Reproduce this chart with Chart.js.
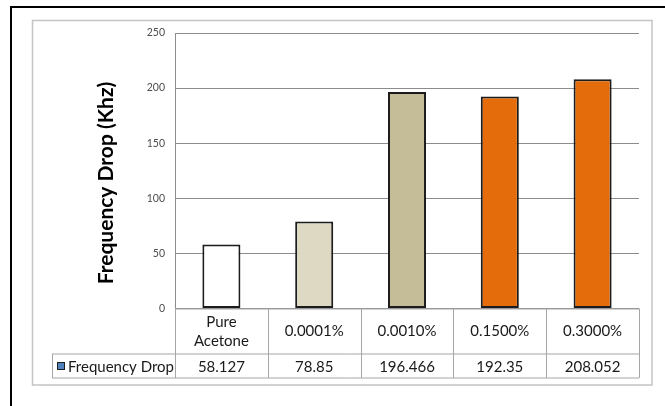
<!DOCTYPE html>
<html>
<head>
<meta charset="utf-8">
<script src="https://cdn.jsdelivr.net/npm/chart.js@4/dist/chart.umd.min.js"></script>
<style>
    html, body { margin: 0; padding: 0; background: #fff; }
    #wrap { width: 665px; height: 406px; position: relative; }
</style>
</head>
<body>
<div id="wrap"><canvas id="chart" width="665" height="406"></canvas></div>
<script>
const categories = [['Pure', 'Acetone'], '0.0001%', '0.0010%', '0.1500%', '0.3000%'];
const seriesName = 'Frequency Drop';
const frequencyDrop = [58.127, 78.85, 196.466, 192.35, 208.052];
const valueLabels = ['58.127', '78.85', '196.466', '192.35', '208.052'];
const barColors = ['#ffffff', '#ddd9c3', '#c4bd97', '#e46c0a', '#e46c0a'];
const yTicks = [0, 50, 100, 150, 200, 250];
const yTitle = 'Frequency Drop (Khz)';

const FONT = 'Lato, "Open Sans", sans-serif';

// frame, axis title and the data table under the bars
const tablePlugin = {
    id: 'dataTable',
    beforeDraw(chart) {
        const ctx = chart.ctx;
        ctx.save();
        ctx.fillStyle = '#fff';
        ctx.fillRect(0, 0, chart.width, chart.height);
        // outer black border
        ctx.strokeStyle = '#000';
        ctx.lineWidth = 2;
        ctx.beginPath();
        ctx.moveTo(11, chart.height + 5);
        ctx.lineTo(11, 7);
        ctx.lineTo(chart.width + 5, 7);
        ctx.stroke();
        // inner chart frame
        ctx.strokeStyle = '#c4c4c4';
        ctx.lineWidth = 1.5;
        ctx.strokeRect(32.5, 20.5, 619.5, 364.5);
        ctx.restore();
    },
    afterDraw(chart) {
        const ctx = chart.ctx;
        const area = chart.chartArea;
        const x = chart.scales.x;
        const n = categories.length;
        const colW = area.width / n;
        const top = area.bottom;
        const mid = top + 45.5;
        const bot = mid + 24;
        const legendLeft = 52;

        ctx.save();
        ctx.strokeStyle = '#a6a6a6';
        ctx.lineWidth = 1;
        ctx.beginPath();
        ctx.moveTo(area.left, top + 0.5); ctx.lineTo(area.right, top + 0.5);
        ctx.moveTo(legendLeft, mid); ctx.lineTo(area.right, mid);
        ctx.moveTo(legendLeft, bot); ctx.lineTo(area.right, bot);
        ctx.moveTo(legendLeft + 0.5, mid); ctx.lineTo(legendLeft + 0.5, bot);
        for (let i = 0; i <= n; i++) {
            const px = Math.round(area.left + i * colW) + 0.5;
            ctx.moveTo(px, top); ctx.lineTo(px, bot);
        }
        ctx.stroke();

        ctx.fillStyle = '#1a1a1a';
        ctx.font = '15px ' + FONT;
        ctx.textAlign = 'center';
        ctx.textBaseline = 'middle';
        categories.forEach((c, i) => {
            const cx = x.getPixelForValue(i);
            const lines = Array.isArray(c) ? c : [c];
            const lh = 19;
            const y0 = (top + mid) / 2 - (lines.length - 1) * lh / 2;
            lines.forEach((t, j) => ctx.fillText(t, cx, y0 + j * lh));
            ctx.fillText(valueLabels[i], cx, (mid + bot) / 2 + 1);
        });

        // legend key in the table
        ctx.fillStyle = '#4f81bd';
        ctx.fillRect(57, mid + 8, 8, 8);
        ctx.strokeStyle = '#1f1f1f';
        ctx.strokeRect(57.5, mid + 8.5, 7, 7);
        ctx.fillStyle = '#1a1a1a';
        ctx.textAlign = 'left';
        ctx.fillText(seriesName, 68, (mid + bot) / 2 + 1);

        // y-axis title
        ctx.translate(106, 183);
        ctx.rotate(-Math.PI / 2);
        ctx.textAlign = 'center';
        ctx.font = 'bold 21px ' + FONT;
        ctx.fillStyle = '#000';
        ctx.fillText(yTitle, 0, 0);
        ctx.restore();
    }
};

new Chart(document.getElementById('chart'), {
    type: 'bar',
    data: {
        labels: categories,
        datasets: [{
            label: seriesName,
            data: frequencyDrop,
            backgroundColor: barColors,
            borderColor: '#1c1c1c',
            borderWidth: 2,
            borderSkipped: false,
            barPercentage: 0.41,
            categoryPercentage: 1,
        }],
    },
    options: {
        responsive: false,
        animation: false,
        layout: { padding: { top: 33, right: 26, bottom: 97.5, left: 0 } },
        plugins: {
            legend: { display: false },
            tooltip: { enabled: false },
        },
        scales: {
            x: { display: false },
            y: {
                min: yTicks[0],
                max: yTicks[yTicks.length - 1],
                afterFit: (scale) => { scale.width = 175; },
                afterBuildTicks: (scale) => { scale.ticks = yTicks.map(v => ({ value: v })); },
                grid: { color: '#8c8c8c', drawTicks: false },
                border: { color: '#8c8c8c' },
                ticks: {
                    padding: 10,
                    color: '#4d4d4d',
                    font: { family: FONT, size: 10.5 },
                },
            },
        },
    },
    plugins: [tablePlugin],
});
</script>
</body>
</html>
